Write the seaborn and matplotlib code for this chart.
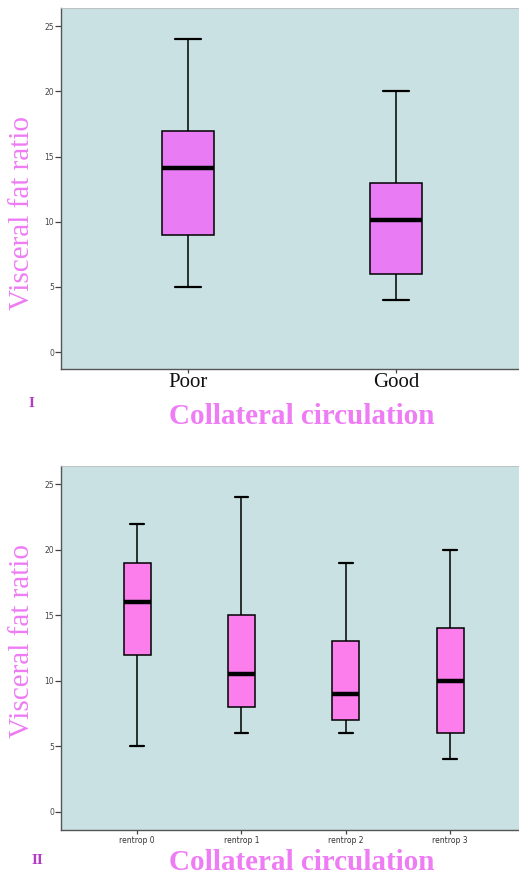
import numpy as np
import pandas as pd
import matplotlib
matplotlib.use("Agg")
import matplotlib.pyplot as plt
import seaborn as sns

# Panel I: five-number summaries (min, q1, median, q3, max)
cats_top = ["Poor", "Good"]
poor_vals = [5, 9, 14.1, 17, 24]
good_vals = [4, 6, 10.1, 13, 20]

# Panel II
cats_bot = ["rentrop 0", "rentrop 1", "rentrop 2", "rentrop 3"]
r0_vals = [5, 12, 16, 19, 22]
r1_vals = [6, 8, 10.5, 15, 24]
r2_vals = [6, 7, 9, 13, 19]
r3_vals = [4, 6, 10, 14, 20]

yticks = [0, 5, 10, 15, 20, 25]

df_top = pd.DataFrame({
    "group": np.repeat(cats_top, 5),
    "value": poor_vals + good_vals,
})
df_bot = pd.DataFrame({
    "group": np.repeat(cats_bot, 5),
    "value": r0_vals + r1_vals + r2_vals + r3_vals,
})

sns.set_style("white")

BG = "#C9E1E2"
LABEL_C = "#EE7CF4"
PANEL_C = "#B23CC4"

fig = plt.figure(figsize=(5.19, 8.77), dpi=100)
ax1 = fig.add_axes([61/519, 1-369/877, 458/519, 361/877])
ax2 = fig.add_axes([61/519, 1-830/877, 458/519, 364/877])

def draw(ax, df, order, color, width, xlim, ylim):
    ax.set_facecolor(BG)
    sns.boxplot(data=df, x="group", y="value", order=order, color=color,
                saturation=1, width=width, whis=np.inf, linecolor="black",
                linewidth=1.1, ax=ax,
                medianprops=dict(color="black", linewidth=3.2),
                boxprops=dict(edgecolor="black", linewidth=1.1),
                whiskerprops=dict(color="black", linewidth=1.1),
                capprops=dict(color="black", linewidth=1.6))
    ax.set_xlim(*xlim)
    ax.set_ylim(*ylim)
    ax.set_yticks(yticks)
    ax.set_xlabel("")
    ax.set_ylabel("")
    ax.spines["right"].set_visible(False)
    ax.spines["top"].set_color("#bbbbbb")
    ax.spines["top"].set_linewidth(0.6)
    ax.spines["left"].set_color("#555555")
    ax.spines["bottom"].set_color("#555555")
    ax.spines["left"].set_linewidth(1.0)
    ax.spines["bottom"].set_linewidth(1.0)
    ax.tick_params(axis="y", which="both", left=True, length=4, width=0.9,
                   color="#444444", labelsize=5.5, labelcolor="#444444", pad=1)
    ax.tick_params(axis="x", which="both", bottom=True, length=3, width=0.9,
                   color="#444444")

draw(ax1, df_top, cats_top, "#E97CF4", 0.25, (-0.61, 1.59), (-1.3, 26.4))
ax1.tick_params(axis="x", labelsize=15, pad=0, labelcolor="#111111")
for t in ax1.get_xticklabels():
    t.set_fontfamily("Liberation Serif")

draw(ax2, df_bot, cats_bot, "#FB7EEC", 0.26, (-0.73, 3.66), (-1.4, 26.4))
ax2.tick_params(axis="x", labelsize=5.5, pad=1, labelcolor="#333333")

serif = "Liberation Serif"
fig.text(22/519, 1-213/877, "Visceral fat ratio", rotation=90, ha="center",
         va="center", fontsize=21, family=serif, color=LABEL_C)
fig.text(22/519, 1-641/877, "Visceral fat ratio", rotation=90, ha="center",
         va="center", fontsize=21, family=serif, color=LABEL_C)
fig.text(302/519, 1-416/877, "Collateral circulation", ha="center",
         va="center", fontsize=21, family=serif, fontweight="bold", color=LABEL_C)
fig.text(302/519, 1-863/877, "Collateral circulation", ha="center",
         va="center", fontsize=21, family=serif, fontweight="bold", color=LABEL_C)
fig.text(31/519, 1-403/877, "I", ha="center", va="center", fontsize=11,
         family=serif, fontweight="bold", color=PANEL_C)
fig.text(37/519, 1-861/877, "II", ha="center", va="center", fontsize=11,
         family=serif, fontweight="bold", color=PANEL_C)

fig.savefig("out.png", dpi=100)
